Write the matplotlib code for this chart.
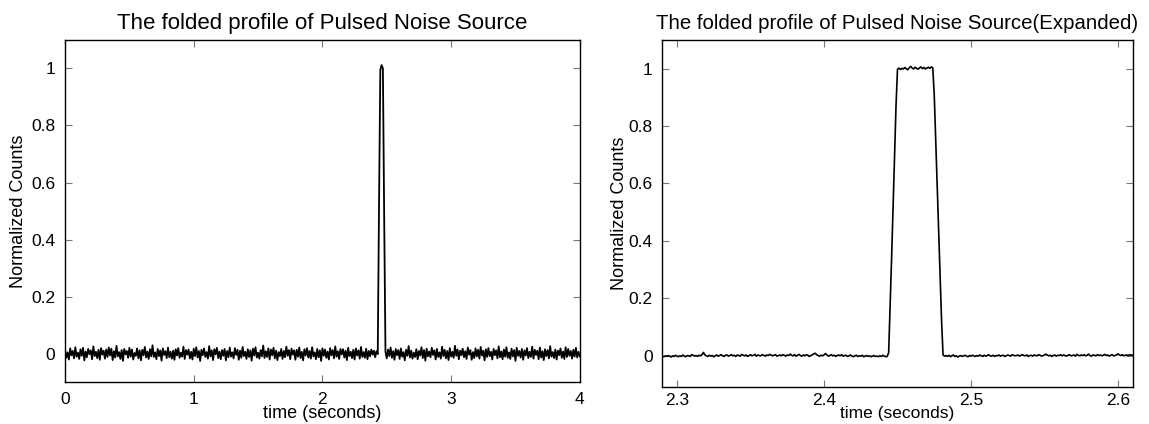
import numpy as np
import matplotlib
matplotlib.use('Agg')
import matplotlib.pyplot as plt

plt.rcParams['font.family'] = ['Liberation Sans', 'DejaVu Sans']

# full folded profile, 0.01 s bins
left_pre = [
    0.012, -0.015, 0.004, -0.021, 0.018, -0.006, 0.009, -0.017, 0.022, -0.011, 0.003, -0.019,
    0.015, -0.008, 0.020, -0.024, 0.007, -0.013, 0.016, -0.002, 0.011, -0.020, 0.025, -0.009,
    0.006, -0.016, 0.013, -0.022, 0.019, -0.004, 0.010, -0.018, 0.014, -0.012, 0.021, -0.007,
    0.017, -0.023, 0.008, -0.014, 0.027, -0.010, 0.005, -0.019, 0.012, -0.026, 0.016, -0.003,
    0.009, -0.015, 0.020, -0.011, 0.014, -0.021, 0.002, -0.008, 0.018, -0.017, 0.011, -0.024,
    0.013, -0.006, 0.023, -0.014, 0.007, -0.019, 0.015, -0.010, 0.029, -0.012, 0.004, -0.020,
    0.016, -0.009, 0.011, -0.025, 0.018, -0.005, 0.008, -0.016, 0.021, -0.013, 0.006, -0.018,
    0.010, -0.022, 0.015, -0.007, 0.019, -0.015, 0.003, -0.011, 0.024, -0.019, 0.012, -0.004,
    0.014, -0.017, 0.006, -0.021, 0.017, -0.009, 0.022, -0.014, 0.009, -0.026, 0.013, -0.006,
    0.018, -0.012, 0.005, -0.018, 0.026, -0.010, 0.011, -0.023, 0.015, -0.003, 0.020, -0.016,
    0.007, -0.020, 0.012, -0.008, 0.016, -0.024, 0.009, -0.013, 0.021, -0.011, 0.004, -0.017,
    0.019, -0.005, 0.013, -0.022, 0.010, -0.015, 0.023, -0.009, 0.006, -0.019, 0.015, -0.012,
    0.011, -0.025, 0.017, -0.007, 0.022, -0.014, 0.003, -0.018, 0.012, -0.010, 0.028, -0.016,
    0.008, -0.012, 0.018, -0.021, 0.014, -0.006, 0.020, -0.017, 0.010, -0.023, 0.005, -0.009,
    0.016, -0.019, 0.009, -0.013, 0.024, -0.008, 0.012, -0.020, 0.017, -0.004, 0.011, -0.022,
    0.013, -0.011, 0.021, -0.016, 0.006, -0.024, 0.015, -0.007, 0.019, -0.014, 0.009, -0.018,
    0.022, -0.010, 0.004, -0.020, 0.016, -0.013, 0.011, -0.026, 0.018, -0.008, 0.014, -0.015,
    0.007, -0.021, 0.019, -0.006, 0.012, -0.017, 0.025, -0.011, 0.008, -0.019, 0.016, -0.003,
    0.015, -0.014, 0.010, -0.023, 0.020, -0.009, 0.006, -0.016, 0.013, -0.021, 0.018, -0.007,
    0.011, -0.018, 0.023, -0.012, 0.005, -0.015, 0.017, -0.020, 0.009, -0.010, 0.014, -0.004,
    0.010, -0.013, 0.008, -0.002,
]
left_pulse = [0.52, 0.995, 1.012, 1.0, 0.48]
left_post = [
    0.006, -0.017, 0.014, -0.009, 0.021, -0.015, 0.008, -0.022, 0.016, -0.006, 0.012, -0.019,
    0.018, -0.011, 0.005, -0.024, 0.013, -0.008, 0.026, -0.014, 0.010, -0.018, 0.003, -0.012,
    0.015, -0.020, 0.009, -0.007, 0.022, -0.016, 0.012, -0.025, 0.017, -0.010, 0.007, -0.013,
    0.020, -0.005, 0.011, -0.021, 0.016, -0.012, 0.004, -0.018, 0.024, -0.009, 0.013, -0.017,
    0.009, -0.023, 0.019, -0.011, 0.006, -0.015, 0.027, -0.008, 0.014, -0.020, 0.010, -0.006,
    0.017, -0.013, 0.008, -0.019, 0.021, -0.004, 0.012, -0.022, 0.005, -0.016, 0.018, -0.010,
    0.013, -0.018, 0.023, -0.007, 0.010, -0.024, 0.015, -0.012, 0.019, -0.009, 0.006, -0.021,
    0.016, -0.006, 0.011, -0.017, 0.025, -0.013, 0.007, -0.020, 0.014, -0.011, 0.022, -0.015,
    0.004, -0.019, 0.017, -0.010, 0.012, -0.026, 0.020, -0.008, 0.009, -0.014, 0.016, -0.022,
    0.011, -0.007, 0.019, -0.016, 0.006, -0.012, 0.024, -0.018, 0.013, -0.005, 0.010, -0.020,
    0.021, -0.014, 0.008, -0.023, 0.015, -0.009, 0.012, -0.017, 0.026, -0.011, 0.005, -0.016,
    0.014, -0.021, 0.010, -0.006, 0.018, -0.015, 0.007, -0.019, 0.022, -0.012, 0.016, -0.008,
    0.009, -0.018, 0.013, -0.011, 0.020, -0.014, 0.006, -0.010,
]

# expanded view around the pulse, 0.001 s bins starting at 2.290 s
right_pre = [
    -0.002, -0.004, -0.001, -0.003, 0.000, -0.002, -0.005, -0.001, -0.003, 0.001, -0.002, -0.004,
    -0.001, -0.003, 0.002, -0.002, -0.004, 0.000, -0.001, -0.003, 0.003, 0.001, -0.002, 0.000,
    -0.003, 0.001, -0.001, 0.003, 0.011, 0.002, -0.001, -0.003, 0.001, -0.002, 0.000, -0.004,
    -0.001, 0.002, -0.002, 0.000, 0.003, -0.001, -0.003, 0.001, 0.002, -0.002, 0.000, 0.003,
    -0.001, 0.001, -0.003, 0.002, 0.000, -0.002, 0.004, 0.001, -0.001, 0.002, -0.003, 0.000,
    0.003, -0.001, 0.001, 0.004, -0.002, 0.002, 0.000, -0.001, 0.003, 0.001, -0.002, 0.002,
    0.000, 0.004, 0.002, -0.001, 0.001, 0.003, -0.002, 0.000, 0.002, -0.001, 0.003, 0.001,
    -0.002, 0.002, 0.000, 0.005, 0.001, -0.001, 0.003, -0.002, 0.001, 0.004, 0.000, -0.002,
    0.002, -0.001, 0.003, 0.001, -0.003, 0.000, 0.002, 0.006, 0.008, 0.003, 0.000, -0.002,
    0.001, -0.001, 0.002, 0.007, 0.002, -0.002, 0.000, 0.003, -0.001, 0.001, -0.003, 0.000,
    0.002, -0.001, 0.003, -0.002, 0.000, 0.001, -0.003, -0.001, 0.002, -0.002, -0.004, -0.001,
    0.001, -0.003, -0.001, -0.002, 0.001, -0.004, -0.002, 0.000, -0.003, -0.001, -0.004, -0.002,
    0.000, -0.003, -0.002, -0.004, -0.001, -0.003, 0.001, -0.002, -0.004, -0.003,
]
right_rise = [0.010, 0.17, 0.34, 0.52, 0.69, 0.87]
right_top = [
    0.998, 1.002, 0.997, 1.001, 0.999, 1.004, 1.000, 0.996, 1.003, 1.008, 1.002, 0.999, 1.005,
    1.001, 0.998, 1.003, 1.006, 1.000, 1.004, 0.999, 1.002, 1.005, 1.001, 1.006, 1.003,
]
right_fall = [0.91, 0.75, 0.59, 0.43, 0.27, 0.12]
right_post = [
    0.002, -0.002, 0.000, -0.003, 0.001, -0.004, -0.001, 0.002, -0.003, -0.001, -0.005, -0.002,
    0.000, -0.003, -0.001, 0.001, -0.002, -0.004, 0.000, -0.002, 0.001, -0.001, -0.003, 0.000,
    -0.002, 0.002, -0.001, -0.003, 0.001, -0.002, 0.000, 0.003, -0.001, -0.002, 0.001, -0.003,
    0.000, -0.001, 0.002, -0.002, 0.000, 0.001, -0.003, -0.001, 0.002, 0.000, -0.002, 0.003,
    0.001, -0.001, 0.000, 0.002, -0.002, 0.001, 0.003, 0.000, -0.001, 0.002, -0.003, 0.000,
    0.001, -0.002, 0.002, 0.000, -0.001, 0.003, 0.001, -0.002, 0.000, 0.002, 0.005, 0.001,
    -0.001, 0.001, -0.003, 0.000, 0.002, -0.002, 0.001, 0.000, 0.003, -0.001, 0.002, 0.000,
    -0.002, 0.001, 0.003, -0.001, 0.000, 0.002, -0.002, 0.004, 0.001, -0.001, 0.002, 0.000,
    0.003, -0.001, 0.001, 0.005, 0.000, -0.002, 0.002, 0.001, -0.001, 0.003, 0.000, 0.002,
    -0.001, 0.001, 0.004, 0.000, 0.002, -0.002, 0.001, 0.003, -0.001, 0.000, 0.002, 0.006,
    0.002, 0.000, 0.003, -0.001, 0.001, 0.002, 0.000, 0.003, 0.001, 0.002,
]

left_counts = np.array(left_pre + left_pulse + left_post)
left_time = np.arange(len(left_counts)) * 0.01

right_counts = np.array(right_pre + right_rise + right_top + right_fall + right_post)
right_time = 2.290 + np.arange(len(right_counts)) * 0.001

yticks = [0, 0.2, 0.4, 0.6, 0.8, 1]
ytick_labels = ['0', '0.2', '0.4', '0.6', '0.8', '1']


def style_axes(ax):
    ax.tick_params(direction='in', top=True, right=True, length=5, width=0.8,
                   color='#777777', labelsize=12.5, pad=7)
    for s in ax.spines.values():
        s.set_linewidth(1.0)


fig = plt.figure(figsize=(11.49, 4.24), dpi=100)

ax1 = fig.add_axes([0.0566, 0.099, 0.448, 0.8067])
ax1.plot(left_time, left_counts, color='black', lw=1.3)
ax1.set_xlim(0, 4)
ax1.set_ylim(-0.1, 1.1)
ax1.set_xticks([0, 1, 2, 3, 4])
ax1.set_yticks(yticks)
ax1.set_yticklabels(ytick_labels)
ax1.set_title('The folded profile of Pulsed Noise Source', fontsize=16, pad=8)
ax1.set_xlabel('time (seconds)', fontsize=13, labelpad=-1)
ax1.set_ylabel('Normalized Counts', fontsize=13, labelpad=3)
style_axes(ax1)

ax2 = fig.add_axes([0.5764, 0.087, 0.4094, 0.8187])
ax2.plot(right_time, right_counts, color='black', lw=1.2)
ax2.set_xlim(2.29, 2.61)
ax2.set_ylim(-0.11, 1.1)
ax2.set_xticks([2.3, 2.4, 2.5, 2.6])
ax2.set_xticklabels(['2.3', '2.4', '2.5', '2.6'])
ax2.set_yticks(yticks)
ax2.set_yticklabels(ytick_labels)
ax2.set_title('The folded profile of Pulsed Noise Source(Expanded)', fontsize=14.7, pad=8)
ax2.set_ylabel('Normalized Counts', fontsize=13, labelpad=0)
style_axes(ax2)
ax2.tick_params(axis='x', pad=4)
ax2.set_xlabel('time (seconds)', fontsize=12.5, labelpad=-1)

fig.savefig('out.png', dpi=100)
